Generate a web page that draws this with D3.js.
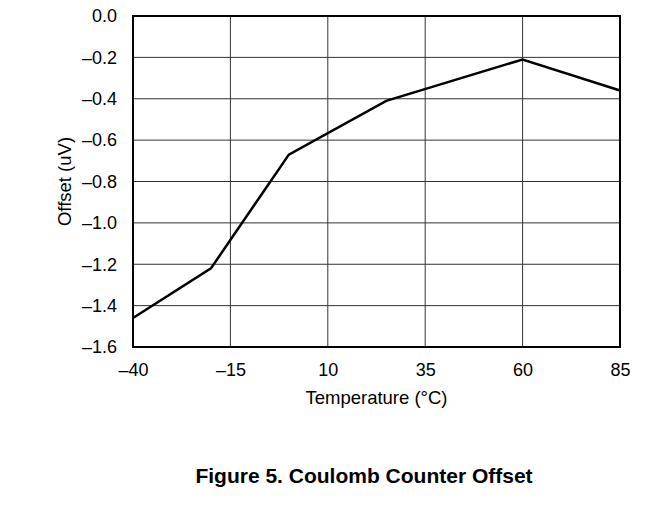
<!DOCTYPE html>
<html>
<head>
<meta charset="utf-8">
<script src="https://cdn.jsdelivr.net/npm/d3@7"></script>
<style>
  body { margin: 0; background: #fff; }
  text { font-family: "Liberation Sans", Arial, sans-serif; fill: #000; }
</style>
</head>
<body>
<div id="chart"></div>
<script>
const temps = [-40, -20, 0, 25, 60, 85];
const offsets = [-1.46, -1.22, -0.67, -0.41, -0.21, -0.36];
const xTicks = [-40, -15, 10, 35, 60, 85];
const yTicks = [0, -0.2, -0.4, -0.6, -0.8, -1.0, -1.2, -1.4, -1.6];

const width = 671;
const height = 519;
const margin = { left: 133, right: 51, top: 16, bottom: 172 };

const fmt = (v) => (v < 0 ? "\u2013" : "") + Math.abs(v).toFixed(1);

const svg = d3
  .select("#chart")
  .append("svg")
  .attr("width", width)
  .attr("height", height);

const x = d3
  .scaleLinear()
  .domain([-40, 85])
  .range([margin.left, width - margin.right]);

const y = d3
  .scaleLinear()
  .domain([-1.6, 0])
  .range([height - margin.bottom, margin.top]);

// Grid
svg
  .append("g")
  .selectAll("line")
  .data(xTicks.slice(1, -1))
  .join("line")
  .attr("x1", (d) => x(d))
  .attr("x2", (d) => x(d))
  .attr("y1", y(0))
  .attr("y2", y(-1.6))
  .attr("stroke", "#333")
  .attr("stroke-width", 1);

svg
  .append("g")
  .selectAll("line")
  .data(yTicks.slice(1, -1))
  .join("line")
  .attr("x1", x(-40))
  .attr("x2", x(85))
  .attr("y1", (d) => y(d))
  .attr("y2", (d) => y(d))
  .attr("stroke", "#333")
  .attr("stroke-width", 1);

// Tick labels via d3 axes
const xAxis = svg
  .append("g")
  .attr("transform", `translate(0,${y(-1.6)})`)
  .call(
    d3
      .axisBottom(x)
      .tickValues(xTicks)
      .tickSize(0)
      .tickPadding(16)
      .tickFormat((d) => (d < 0 ? "\u2013" : "") + Math.abs(d))
  );
xAxis.select(".domain").remove();
xAxis.selectAll("text").attr("font-size", 18).attr("font-family", "Liberation Sans, Arial, sans-serif");

const yAxis = svg
  .append("g")
  .attr("transform", `translate(${x(-40)},0)`)
  .call(d3.axisLeft(y).tickValues(yTicks).tickSize(0).tickPadding(16).tickFormat(fmt));
yAxis.select(".domain").remove();
yAxis.selectAll("text").attr("font-size", 18).attr("font-family", "Liberation Sans, Arial, sans-serif");

// Border
svg
  .append("rect")
  .attr("x", x(-40))
  .attr("y", y(0))
  .attr("width", x(85) - x(-40))
  .attr("height", y(-1.6) - y(0))
  .attr("fill", "none")
  .attr("stroke", "#000")
  .attr("stroke-width", 2);

// Data line
const line = d3
  .line()
  .x((d, i) => x(temps[i]))
  .y((d) => y(d));

svg
  .append("path")
  .datum(offsets)
  .attr("d", line)
  .attr("fill", "none")
  .attr("stroke", "#000")
  .attr("stroke-width", 2.5)
  .attr("stroke-linejoin", "miter");

// Titles
svg
  .append("text")
  .attr("x", (x(-40) + x(85)) / 2)
  .attr("y", 404)
  .attr("text-anchor", "middle")
  .attr("font-size", 18.5)
  .text("Temperature (\u00B0C)");

svg
  .append("text")
  .attr("transform", `translate(71,${(y(0) + y(-1.6)) / 2}) rotate(-90)`)
  .attr("text-anchor", "middle")
  .attr("font-size", 18.5)
  .text("Offset (uV)");

svg
  .append("text")
  .attr("x", 364)
  .attr("y", 483)
  .attr("text-anchor", "middle")
  .attr("font-size", 21)
  .attr("font-weight", "bold")
  .text("Figure 5. Coulomb Counter Offset");
</script>
</body>
</html>
